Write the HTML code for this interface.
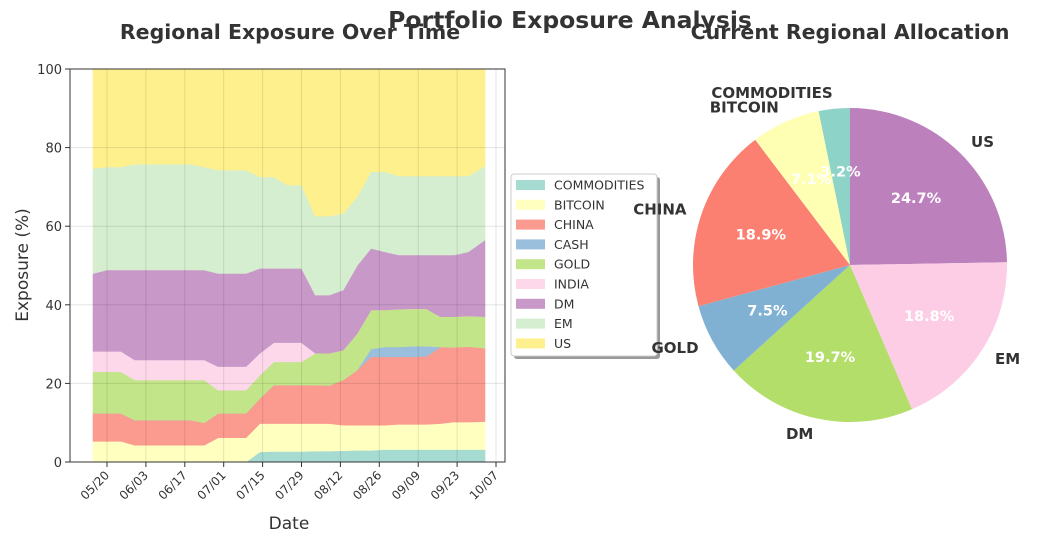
<!DOCTYPE html>
<html><head><meta charset="utf-8"><style>
body{margin:0;background:#fff;font-family:"DejaVu Sans","Liberation Sans",sans-serif;}
svg{display:block}
</style></head><body>
<svg id="c" width="1047" height="537" xmlns="http://www.w3.org/2000/svg">
<text x="570" y="28" text-anchor="middle" font-size="23.5" font-weight="bold" fill="#333">Portfolio Exposure Analysis</text>
<text x="290" y="39" text-anchor="middle" font-size="20.5" font-weight="bold" fill="#333">Regional Exposure Over Time</text>
<text x="850" y="39" text-anchor="middle" font-size="20.5" font-weight="bold" fill="#333">Current Regional Allocation</text>
<g id="area"></g>
<g id="pie"></g>
</svg>
<script>
const dayOffsets=[-5,0,5,10,15,20,25,30,35,40,45,50,55,60,65,70,75,80,85,90,95,100,105,110,115,120,125,130,136];
const seriesNames=["COMMODITIES","BITCOIN","CHINA","CASH","GOLD","INDIA","DM","EM","US"];
const commodities=[0,0,0,0,0,0,0,0,0,0,0,0,2.6,2.7,2.7,2.7,2.8,2.8,2.9,3.0,3.0,3.2,3.2,3.2,3.2,3.2,3.2,3.2,3.2];
const bitcoin=[5.3,5.3,5.3,4.3,4.3,4.3,4.3,4.3,4.3,6.2,6.2,6.2,7.2,7.1,7.1,7.1,7.0,7.0,6.5,6.4,6.4,6.2,6.4,6.4,6.4,6.6,7.0,7.0,7.1];
const china=[7.1,7.1,7.1,6.4,6.4,6.4,6.4,6.4,5.7,6.2,6.2,6.2,6.4,9.8,9.8,9.8,9.8,9.7,11.5,14.0,17.4,17.4,17.2,17.2,17.3,19.5,19.0,19.2,18.7];
const cash=[0,0,0,0,0,0,0,0,0,0,0,0,0,0,0,0,0,0,0,0,2.0,2.5,2.5,2.7,2.6,0,0,0,0];
const gold=[10.6,10.6,10.6,10.2,10.2,10.2,10.2,10.2,10.9,5.9,5.9,5.9,5.9,5.9,5.9,5.9,8.1,8.2,7.6,9.3,9.9,9.4,9.6,9.5,9.5,7.7,7.8,7.8,8.0];
const india=[5.2,5.2,5.2,5.1,5.1,5.1,5.1,5.1,5.1,6.0,6.0,6.0,5.6,4.9,4.9,4.9,0,0,0,0,0,0,0,0,0,0,0,0,0];
const dm=[19.8,20.7,20.7,22.9,22.9,22.9,22.9,22.9,22.9,23.7,23.7,23.7,21.6,18.9,18.9,18.9,14.8,14.8,15.3,17.3,15.7,14.8,13.8,13.7,13.7,15.7,15.7,16.3,19.5];
const em=[26.7,26.2,26.2,26.9,26.9,26.9,26.9,26.9,26.2,26.3,26.3,26.3,23.3,23.3,21.2,21.2,20.1,20.1,19.5,17.5,19.5,20.4,20.1,20.1,20.1,20.1,20.1,19.3,18.8];
const us=[25.3,24.9,24.9,24.2,24.2,24.2,24.2,24.2,24.9,25.7,25.7,25.7,27.4,27.4,29.5,29.5,37.4,37.4,36.7,32.5,26.1,26.1,27.2,27.2,27.2,27.2,27.2,27.2,24.7];
const yTicks=[0,20,40,60,80,100];
const xTickDays=[0,14,28,42,56,70,84,98,112,126,140];
const xTickLabels=["05/20","06/03","06/17","07/01","07/15","07/29","08/12","08/26","09/09","09/23","10/07"];
const pieLabels=["US","EM","DM","GOLD","CHINA","BITCOIN","COMMODITIES"];
const pieValues=[24.7,18.8,19.7,7.5,18.9,7.1,3.2];

const NS="http://www.w3.org/2000/svg";
function mk(t,a,p){const e=document.createElementNS(NS,t);for(const k in a)e.setAttribute(k,a[k]);p.appendChild(e);return e;}
const areaColors=["#a6dbd1","#ffffc0","#fb9a8e","#99bfdc","#c3e589","#fdd7ea","#c898c8","#d6eed0","#fff08e"];
const X0=70,X1=505,Y0=462,Y1=69;
const xs=d=>107+d*(496-107)/140;
const ys=v=>Y0-v*(Y0-Y1)/100;
const A=document.getElementById('area');
mk('rect',{x:X0,y:Y1,width:X1-X0,height:Y0-Y1,fill:'#fff'},A);
const series=[commodities,bitcoin,china,cash,gold,india,dm,em,us];
let base=dayOffsets.map(()=>0);
series.forEach((s,k)=>{
  const top=base.map((b,i)=>b+s[i]);
  let d='M'+dayOffsets.map((dd,i)=>xs(dd)+','+ys(top[i])).join('L');
  for(let i=dayOffsets.length-1;i>=0;i--)d+='L'+xs(dayOffsets[i])+','+ys(base[i]);
  const p=mk('path',{d:d+'Z',fill:areaColors[k],stroke:areaColors[k],'stroke-width':0.8},A);
  
  
  base=top;
});
yTicks.forEach(v=>{
  const g=mk('line',{x1:X0,x2:X1,y1:ys(v),y2:ys(v),stroke:'#000','stroke-opacity':0.1},A);
  
  
  mk('line',{x1:X0-5,x2:X0,y1:ys(v),y2:ys(v),stroke:'#333'},A);
  const t=mk('text',{x:X0-8,y:ys(v)+5,'text-anchor':'end','font-size':13,fill:'#333'},A);
  t.textContent=v;
  
  
});
xTickDays.forEach((d,i)=>{
  const x=xs(d);
  const g=mk('line',{x1:x,x2:x,y1:Y1,y2:Y0,stroke:'#000','stroke-opacity':0.1},A);
  
  
  mk('line',{x1:x,x2:x,y1:Y0,y2:Y0+5,stroke:'#333'},A);
  const t=mk('text',{x:x+3,y:Y0+14,'text-anchor':'end','font-size':12,fill:'#333',transform:`rotate(-45 ${x+3} ${Y0+14})`},A);
  t.textContent=xTickLabels[i];
  
  
});
mk('rect',{x:X0,y:Y1,width:X1-X0,height:Y0-Y1,fill:'none',stroke:'#333','stroke-width':1},A);
let t=mk('text',{x:289,y:529,'text-anchor':'middle','font-size':17,fill:'#333'},A);t.textContent='Date';

t=mk('text',{x:28,y:265,'text-anchor':'middle','font-size':17,fill:'#333',transform:'rotate(-90 28 265)'},A);t.textContent='Exposure (%)';

const L=mk('g',{},A);
mk('rect',{x:514,y:177,width:146,height:182,rx:3,fill:'#999'},L);
mk('rect',{x:511,y:174,width:146,height:182,rx:3,fill:'#fff',stroke:'#ccc'},L);
seriesNames.forEach((n,k)=>{
  const y=185+k*19.8;
  mk('rect',{x:516,y:y-5,width:29,height:10,fill:areaColors[k]},L);
  const tt=mk('text',{x:554,y:y+4.5,'font-size':12.5,fill:'#333'},L);tt.textContent=n;
  
});
const P=document.getElementById('pie');
const pieColors=["#bc80bd","#fccde5","#b3de69","#80b1d3","#fb8072","#ffffb3","#8dd3c7"];
const cx=850,cy=265,R=157;
const tot=pieValues.reduce((a,b)=>a+b,0);
let ang=90;
pieValues.forEach((v,i)=>{
  const sw=v/tot*360,a1=ang,a2=ang-sw,mid=(a1+a2)/2;
  const r=d=>d*Math.PI/180;
  const p1=[cx+R*Math.cos(r(a1)),cy-R*Math.sin(r(a1))],p2=[cx+R*Math.cos(r(a2)),cy-R*Math.sin(r(a2))];
  const s=mk('path',{d:`M${cx},${cy}L${p1}A${R},${R} 0 ${sw>180?1:0} 1 ${p2}Z`,fill:pieColors[i]},P);
  
  
  const lx=cx+1.1*R*Math.cos(r(mid)),ly=cy-1.1*R*Math.sin(r(mid));
  const anc=Math.cos(r(mid))>0.01?'start':(Math.cos(r(mid))<-0.01?'end':'middle');
  const lt=mk('text',{x:lx,y:ly+5,'text-anchor':anc,'font-size':15,'font-weight':'bold',fill:'#333'},P);
  lt.textContent=pieLabels[i];
  
  const px=cx+0.6*R*Math.cos(r(mid)),py=cy-0.6*R*Math.sin(r(mid));
  const pt=mk('text',{x:px,y:py+5,'text-anchor':'middle','font-size':14.5,'font-weight':'bold',fill:'#fff'},P);
  pt.textContent=(v/tot*100).toFixed(1)+'%';
  
  ang=a2;
});
</script>
</body></html>
